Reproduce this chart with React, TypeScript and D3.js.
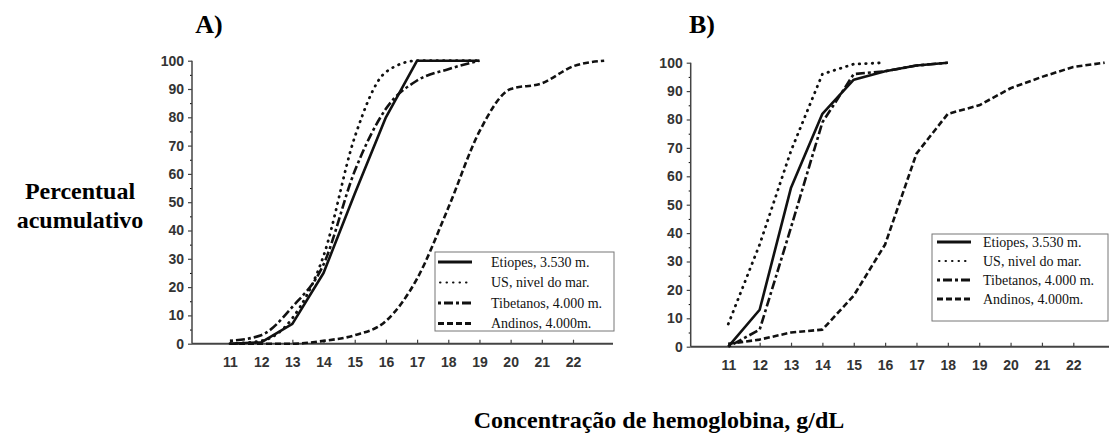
import React, { useEffect, useRef } from 'react';
import * as d3 from 'd3';

// eixos
const xTicks = [11, 12, 13, 14, 15, 16, 17, 18, 19, 20, 21, 22];
const yTicks = [0, 10, 20, 30, 40, 50, 60, 70, 80, 90, 100];
const yMinor = [5, 15, 25, 35, 45, 55, 65, 75, 85, 95];

const seriesNames = ['Etiopes, 3.530 m.', 'US, nivel do mar.', 'Tibetanos, 4.000 m.', 'Andinos, 4.000m.'];
const dashes = [null, '0.5,6', '3,3,9,3', '6,3'];

// painel A
const etiopesAx = [11, 12, 13, 14, 15, 16, 17, 18, 19];
const etiopesAy = [0, 0.5, 7, 25, 53, 80, 100, 100, 100];
const usAx = [11, 12, 13, 14, 15, 16, 17, 18, 19];
const usAy = [0, 1, 9, 31, 73, 96, 100, 100, 100];
const tibetAx = [11, 12, 13, 14, 15, 16, 17, 18, 19];
const tibetAy = [1, 3, 13, 28, 61, 83, 93, 97, 100];
const andinosAx = [11, 12, 13, 14, 15, 16, 17, 18, 19, 20, 21, 22, 23];
const andinosAy = [0, 0, 0, 1, 3, 8, 23, 48, 75, 90, 92, 98, 100];

// painel B
const etiopesBx = [11, 12, 13, 14, 15, 16, 17, 18];
const etiopesBy = [0, 13, 56, 82, 94, 97, 99, 100];
const usBx = [11, 12, 13, 14, 15, 16];
const usBy = [8, 36, 69, 96, 99.5, 100];
const tibetBx = [11, 12, 13, 14, 15, 16, 17, 18];
const tibetBy = [0, 6, 42, 79, 96, 97, 99, 100];
const andinosBx = [11, 12, 13, 14, 15, 16, 17, 18, 19, 20, 21, 22, 23];
const andinosBy = [1, 2.5, 5, 6, 18, 36, 68, 82, 85, 91, 95, 98.5, 100];

const panels = [
  {
    label: 'A)', labelX: 209, smooth: true,
    axisX: 192, xRange: [230, 573], axisEnd: 613, yRange: [343.7, 60.7],
    legend: { x: 435, y: 252, w: 179, h: 79, row0: 262, step: 20.5, lx: 438, tx: 491 },
    series: [[etiopesAx, etiopesAy], [usAx, usAy], [tibetAx, tibetAy], [andinosAx, andinosAy]],
  },
  {
    label: 'B)', labelX: 702, smooth: false,
    axisX: 690.7, xRange: [728.3, 1073.3], axisEnd: 1109, yRange: [346.7, 62.7],
    legend: { x: 932, y: 234, w: 176, h: 87, row0: 242, step: 19, lx: 937, tx: 983 },
    series: [[etiopesBx, etiopesBy], [usBx, usBy], [tibetBx, tibetBy], [andinosBx, andinosBy]],
  },
];

const App = () => {
  const ref = useRef<SVGSVGElement | null>(null);

  useEffect(() => {
    const svg = d3.select(ref.current);
    svg.selectAll('*').remove();

    const serif = '"Liberation Serif", "Times New Roman", serif';
    const sans = '"Liberation Sans", Arial, sans-serif';

    panels.forEach(p => {
      const x = d3.scaleLinear().domain([11, 22]).range(p.xRange);
      const y = d3.scaleLinear().domain([0, 100]).range(p.yRange);
      const g = svg.append('g');

      // titulo do painel
      g.append('text')
        .attr('x', p.labelX).attr('y', 33)
        .attr('text-anchor', 'middle')
        .style('font-family', serif).style('font-weight', 'bold').style('font-size', '26px')
        .text(p.label);

      // eixo y
      const yAxis = g.append('g')
        .attr('transform', `translate(${p.axisX},0)`)
        .call(d3.axisLeft(y).tickValues(yTicks).tickSize(4).tickPadding(4));
      g.append('g')
        .attr('transform', `translate(${p.axisX},0)`)
        .call(d3.axisLeft(y).tickValues(yMinor).tickSize(2).tickFormat(() => ''))
        .call(a => a.select('.domain').remove());

      // eixo x
      const xAxis = g.append('g')
        .attr('transform', `translate(0,${y(0)})`)
        .call(d3.axisBottom(x).tickValues(xTicks).tickSize(-4).tickPadding(13));

      [yAxis, xAxis].forEach(a => {
        a.select('.domain').remove();
        a.selectAll('line').attr('stroke', '#444').attr('stroke-width', 1.2);
        a.selectAll('text')
          .style('font-family', sans).style('font-weight', 'bold').style('font-size', '14px')
          .attr('fill', '#333');
      });

      g.append('line')
        .attr('x1', p.axisX).attr('x2', p.axisX)
        .attr('y1', y(0)).attr('y2', y(100))
        .attr('stroke', '#444').attr('stroke-width', 1.5);
      g.append('line')
        .attr('x1', p.axisX).attr('x2', p.axisEnd)
        .attr('y1', y(0)).attr('y2', y(0))
        .attr('stroke', '#444').attr('stroke-width', 2);

      // curvas
      const line = d3.line<[number, number]>()
        .x(d => x(d[0]))
        .y(d => y(d[1]));
      const smoothLine = d3.line<[number, number]>()
        .curve(d3.curveMonotoneX)
        .x(d => x(d[0]))
        .y(d => y(d[1]));

      p.series.forEach(([xs, ys], i) => {
        const pts = xs.map((v, j) => [v, ys[j]] as [number, number]);
        const gen = p.smooth && i > 0 ? smoothLine : line;
        g.append('path')
          .attr('d', gen(pts))
          .attr('fill', 'none')
          .attr('stroke', '#111')
          .attr('stroke-width', i === 1 ? 2.8 : 2.6)
          .attr('stroke-dasharray', dashes[i])
          .attr('stroke-linecap', i === 1 ? 'round' : 'butt')
          .attr('stroke-linejoin', 'round');
      });

      // legenda
      const L = p.legend;
      const lg = g.append('g');
      lg.append('rect')
        .attr('x', L.x).attr('y', L.y).attr('width', L.w).attr('height', L.h)
        .attr('fill', 'white').attr('stroke', '#777').attr('stroke-width', 1);
      seriesNames.forEach((name, i) => {
        const ry = L.row0 + i * L.step;
        lg.append('line')
          .attr('x1', L.lx + (i === 1 ? 2 : 0)).attr('x2', L.lx + 34)
          .attr('y1', ry).attr('y2', ry)
          .attr('stroke', '#111').attr('stroke-width', i === 1 ? 2 : 3)
          .attr('stroke-linecap', i === 1 ? 'round' : 'butt')
          .attr('stroke-dasharray', dashes[i]);
        lg.append('text')
          .attr('x', L.tx).attr('y', ry).attr('dy', '0.35em')
          .style('font-family', serif).style('font-size', '14px')
          .attr('fill', '#111')
          .text(name);
      });
    });

    // titulos dos eixos
    svg.append('text')
      .attr('x', 80).attr('y', 199).attr('text-anchor', 'middle')
      .style('font-family', serif).style('font-weight', 'bold').style('font-size', '24px')
      .text('Percentual');
    svg.append('text')
      .attr('x', 80).attr('y', 228).attr('text-anchor', 'middle')
      .style('font-family', serif).style('font-weight', 'bold').style('font-size', '24px')
      .text('acumulativo');
    svg.append('text')
      .attr('x', 659).attr('y', 428).attr('text-anchor', 'middle')
      .style('font-family', serif).style('font-weight', 'bold').style('font-size', '24px')
      .text('Concentração de hemoglobina, g/dL');
  }, []);

  return (
    <svg
      ref={ref}
      width={1109}
      height={437}
      style={{ position: 'absolute', left: 0, top: 0, background: 'white' }}
    />
  );
};

export default App;
